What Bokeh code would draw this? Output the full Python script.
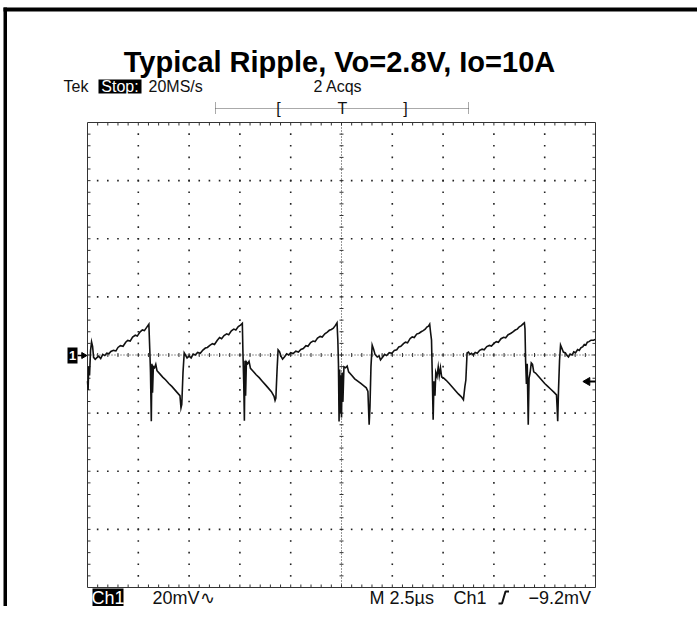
import numpy as np
from bokeh.plotting import figure
from bokeh.models import Range1d
from bokeh.embed import file_html
from bokeh.resources import INLINE
from bokeh.core.properties import value

# ---------------- data (time in microseconds, voltage in mV) ----------------
seg1_t = [0.00, 0.03, 0.06, 0.10, 0.15, 0.20, 0.25, 0.30, 0.38, 0.45, 0.55, 0.65, 0.75, 0.85, 0.95, 1.05,
          1.15, 1.28, 1.40, 1.50, 1.62, 1.75, 1.88, 1.98, 2.10, 2.22, 2.35, 2.45, 2.58, 2.70, 2.80, 2.92, 3.02]
seg1_v = [-9.0, -12.0, -4.0, -7.0, 1.5, 4.5, 3.0, -0.8, -1.5, -1.0, -0.4, -1.2, 0.2, -0.2, 0.6, 0.4,
          1.2, 1.6, 1.4, 2.6, 3.2, 3.0, 4.4, 5.0, 4.8, 6.2, 6.8, 6.5, 7.9, 8.6, 8.4, 9.6, 10.6]

seg2_t = [3.07, 3.10, 3.14, 3.17, 3.20, 3.24, 3.30, 3.36, 3.42, 3.55, 3.70, 3.85, 4.00, 4.15, 4.30, 4.45,
          4.55, 4.60, 4.64, 4.70, 4.76, 4.82, 4.90,
          5.00, 5.10, 5.20, 5.30, 5.42, 5.55, 5.68, 5.80, 5.90, 6.02, 6.15, 6.25, 6.38, 6.50, 6.60, 6.72,
          6.85, 6.95, 7.08, 7.20, 7.30, 7.42, 7.53, 7.62]
seg2_v = [0.8, -6.0, -22.8, -3.0, -13.0, -4.0, -4.4, -3.2, -5.4, -6.4, -7.6, -8.6, -9.8, -10.8, -12.0, -13.2,
          -14.0, -18.2, -17.0, -6.0, 0.7, 0.0, -1.0,
          -0.4, -1.0, 0.3, 0.0, 0.9, 0.6, 1.7, 2.4, 2.6, 3.3, 3.9, 3.6, 5.0, 6.0, 5.6, 6.7,
          7.3, 7.0, 8.3, 8.9, 8.6, 9.8, 10.3, 10.9]

seg3_t = [7.65, 7.69, 7.72, 7.75, 7.78, 7.82, 7.88, 7.95, 8.02, 8.15, 8.30, 8.45, 8.60, 8.75, 8.90, 9.05,
          9.18, 9.23, 9.27, 9.33, 9.38, 9.45, 9.52, 9.60,
          9.70, 9.80, 9.90, 10.00, 10.12, 10.25, 10.38, 10.50, 10.62, 10.75, 10.85, 10.98, 11.10, 11.20,
          11.32, 11.45, 11.55, 11.68, 11.80, 11.90, 12.00, 12.10, 12.20, 12.28]
seg3_v = [0.7, -10.0, -22.6, -2.0, -14.0, -2.4, -3.0, -2.2, -4.6, -5.6, -6.8, -7.8, -9.0, -10.2, -11.4, -12.6,
          -14.2, -15.6, -14.8, -5.0, 1.8, 1.2, -0.4, -1.4,
          -0.6, 0.4, 0.0, 0.8, 0.5, 1.3, 1.0, 1.9, 2.2, 3.2, 3.0, 4.3, 4.8, 4.6,
          5.8, 6.4, 6.2, 7.3, 7.9, 8.5, 8.8, 9.2, 10.2, 11.1]

seg4_t = [12.32, 12.35, 12.38, 12.41, 12.44, 12.47, 12.50, 12.53, 12.57, 12.62, 12.70, 12.78, 12.85, 13.00,
          13.15, 13.30, 13.45, 13.60, 13.72, 13.80, 13.86, 13.90, 13.95, 14.01, 14.08, 14.15, 14.26, 14.35, 14.42,
          14.52, 14.62, 14.72, 14.85, 14.98, 15.10, 15.22, 15.32, 15.42, 15.55, 15.65, 15.75, 15.88, 15.98,
          16.08, 16.20, 16.32, 16.42, 16.52, 16.62, 16.70, 16.78, 16.84]
seg4_v = [5.0, -3.0, -22.9, -5.0, -20.0, -7.0, -21.5, -6.0, -16.0, -4.1, -4.4, -3.8, -5.8, -7.0,
          -8.2, -9.0, -9.8, -10.6, -11.3, -12.5, -24.0, -18.0, -4.0, 3.4, 2.0, 0.2, -0.7, -0.3, -1.7,
          -0.8, 0.2, -0.2, 0.8, 0.6, 1.6, 1.8, 2.8, 3.0, 3.9, 4.4, 4.2, 5.7, 6.2,
          6.0, 7.2, 7.5, 8.0, 8.4, 8.9, 9.6, 9.9, 10.6]

seg5_t = [16.88, 16.93, 16.97, 17.01, 17.05, 17.10, 17.14, 17.20, 17.26, 17.31, 17.37, 17.43, 17.52, 17.65,
          17.80, 17.95, 18.10, 18.25, 18.40, 18.50, 18.57, 18.62, 18.68, 18.75, 18.82, 18.90,
          18.98, 19.08, 19.18, 19.30, 19.42, 19.52, 19.65, 19.78, 19.88, 20.00, 20.12, 20.22, 20.35, 20.48,
          20.58, 20.70, 20.82, 20.92, 21.05, 21.15, 21.25, 21.35, 21.45, 21.50]
seg5_v = [8.0, 5.1, -8.0, -22.3, -9.0, -14.0, -6.0, -7.4, -4.1, -7.2, -4.4, -7.6, -7.9, -8.7,
          -9.8, -11.0, -12.2, -13.4, -14.4, -15.4, -11.0, -8.6, 0.7, 1.0, 0.2, 0.6,
          0.0, 0.9, 0.6, 1.6, 2.0, 1.8, 2.9, 3.3, 3.1, 4.0, 4.6, 4.4, 5.6, 6.1,
          5.9, 7.0, 7.4, 7.9, 8.6, 8.9, 9.7, 10.1, 10.8, 11.1]

seg6_t = [21.53, 21.56, 21.60, 21.64, 21.69, 21.73, 21.78, 21.84, 21.90, 21.96, 22.05, 22.20, 22.35, 22.50,
          22.65, 22.80, 22.95, 23.08, 23.11, 23.14, 23.18, 23.23, 23.28, 23.35, 23.42, 23.52, 23.60, 23.67,
          23.75, 23.85, 23.93, 24.02, 24.12, 24.20, 24.28, 24.38, 24.45, 24.52, 24.60, 24.68, 24.78, 24.90, 24.98]
seg6_v = [9.0, -2.0, -10.0, -3.0, -24.0, -8.0, -6.2, -2.7, -3.2, -5.8, -6.2, -7.4, -8.6, -9.8,
          -10.8, -11.8, -12.8, -13.7, -18.0, -22.8, -12.0, -2.0, 3.4, 2.2, 1.0, 0.7, -0.2, -0.7,
          0.3, 0.0, 1.1, 0.8, 1.9, 1.6, 2.5, 2.9, 3.6, 3.4, 4.4, 4.6, 5.1, 5.1, 5.3]

title_text = "Typical Ripple, Vo=2.8V, Io=10A"
hdr_tek, hdr_stop, hdr_rate, hdr_acq = "Tek", "Stop:", "20MS/s", "2 Acqs"
ftr_ch, ftr_scale, ftr_time, ftr_trig_ch, ftr_trig_lvl = "Ch1", "20mV\u223f", "M 2.5\u00b5s", "Ch1", "\u22129.2mV"
us_per_div, mv_per_div = 2.5, 20.0
n_xdiv, n_ydiv = 10, 8

trace_t = seg1_t + seg2_t + seg3_t + seg4_t + seg5_t + seg6_t
trace_v = seg1_v + seg2_v + seg3_v + seg4_v + seg5_v + seg6_v

# ---------------- layout ----------------
W, H = 697, 606
GX0, GX1 = 87, 595   # graticule, canvas px
GY0, GY1 = 122, 587
T0, T1 = 0.0, us_per_div * n_xdiv
V1 = mv_per_div * n_ydiv / 2
V0 = -V1
sx = (GX1 - GX0) / (T1 - T0)
sy = (GY1 - GY0) / (V1 - V0)


def X(ax):  # canvas px -> data x
    return T0 + (ax - GX0) / sx


def Y(ay):  # canvas px -> data y
    return V1 - (ay - GY0) / sy


p = figure(width=W, height=H, title=None, output_backend="svg", toolbar_location=None,
           x_range=Range1d(X(0), X(W)), y_range=Range1d(Y(H), Y(0)),
           x_axis_type=None, y_axis_type=None, min_border=0)
p.min_border_left = p.min_border_right = p.min_border_top = p.min_border_bottom = 0
p.outline_line_color = None
p.background_fill_color = "white"
p.border_fill_color = "white"

INK = "#111111"
GRID = "#333333"
FONT = value("Liberation Sans")

# outer frame (top and left edges), drawn as filled bands
p.quad(left=[X(3)], right=[X(W)], top=[Y(7)], bottom=[Y(11)], fill_color="black", line_color=None)
p.quad(left=[X(3)], right=[X(6.5)], top=[Y(7)], bottom=[Y(H)], fill_color="black", line_color=None)

# title
p.text(x=[X(339)], y=[Y(61)], text=[title_text], text_font=FONT, text_font_style="bold",
       text_font_size=value("29px"), text_align="center", text_baseline="middle", text_color="black")

# header
HY = 86
p.text(x=[X(63)], y=[Y(HY)], text=[hdr_tek], text_font=FONT, text_font_size=value("16px"),
       text_align="left", text_baseline="middle", text_color=INK)
p.quad(left=[X(98)], right=[X(141)], top=[Y(79)], bottom=[Y(93)], fill_color="black", line_color=None)
p.text(x=[X(119.5)], y=[Y(HY)], text=[hdr_stop], text_font=FONT, text_font_size=value("16px"),
       text_align="center", text_baseline="middle", text_color="white")
p.text(x=[X(148)], y=[Y(HY)], text=[hdr_rate], text_font=FONT, text_font_size=value("16px"),
       text_align="left", text_baseline="middle", text_color=INK)
p.text(x=[X(313)], y=[Y(HY)], text=[hdr_acq], text_font=FONT, text_font_size=value("16px"),
       text_align="left", text_baseline="middle", text_color=INK)

# record-position bracket
p.segment(x0=[X(215)], y0=[Y(108)], x1=[X(468)], y1=[Y(108)], line_color="#555555",
          line_width=1, line_dash="1 1")
p.segment(x0=[X(215), X(468)], y0=[Y(102), Y(102)], x1=[X(215), X(468)], y1=[Y(114), Y(114)],
          line_color="#555555", line_width=1, line_dash="1 1")
p.text(x=[X(278), X(342), X(405)], y=[Y(108)] * 3, text=["[", "T", "]"], text_font=FONT,
       text_font_size=value("16px"), text_align="center", text_baseline="middle", text_color=INK)

# graticule outline
p.rect(x=[(T0 + T1) / 2], y=[0], width=[T1 - T0], height=[V1 - V0], fill_color=None,
       line_color=GRID, line_width=1)

minor_x = np.arange(1, n_xdiv * 5) * us_per_div / 5
minor_y = V0 + np.arange(1, n_ydiv * 5) * mv_per_div / 5
tick_len_y = 3 / sy
tick_len_x = 3 / sx
# edge ticks
p.segment(x0=minor_x, y0=np.full_like(minor_x, V0), x1=minor_x, y1=np.full_like(minor_x, V0 + tick_len_y),
          line_color=GRID, line_width=1)
p.segment(x0=minor_x, y0=np.full_like(minor_x, V1), x1=minor_x, y1=np.full_like(minor_x, V1 - tick_len_y),
          line_color=GRID, line_width=1)
p.segment(x0=np.full_like(minor_y, T0), y0=minor_y, x1=np.full_like(minor_y, T0 + tick_len_x), y1=minor_y,
          line_color=GRID, line_width=1)
p.segment(x0=np.full_like(minor_y, T1), y0=minor_y, x1=np.full_like(minor_y, T1 - tick_len_x), y1=minor_y,
          line_color=GRID, line_width=1)

# dotted grid
gx, gy = [], []
for k in range(1, n_xdiv):
    if k == n_xdiv // 2:
        continue
    for yy in minor_y:
        gx.append(k * us_per_div)
        gy.append(yy)
for k in range(1, n_ydiv):
    if k == n_ydiv // 2:
        continue
    for xx in minor_x:
        gx.append(xx)
        gy.append(V0 + k * mv_per_div)
p.scatter(x=gx, y=gy, marker="square", size=1.6, fill_color="#222222", line_color=None)

# center cross: fine dotted lines with minor ticks
xc = (T0 + T1) / 2
p.segment(x0=[xc, T0], y0=[V0, 0], x1=[xc, T1], y1=[V1, 0], line_color=GRID, line_width=1,
          line_dash="1 2")
p.segment(x0=minor_x, y0=np.full_like(minor_x, -2 / sy), x1=minor_x, y1=np.full_like(minor_x, 2 / sy),
          line_color=GRID, line_width=1)
p.segment(x0=np.full_like(minor_y, xc - 2 / sx), y0=minor_y, x1=np.full_like(minor_y, xc + 2 / sx), y1=minor_y,
          line_color=GRID, line_width=1)

# the trace
p.line(x=trace_t, y=trace_v, line_color=INK, line_width=1.6, line_join="miter")

# channel marker "1 ->" at left
p.quad(left=[X(67)], right=[X(77)], top=[Y(347)], bottom=[Y(363)], fill_color="black", line_color=None)
p.text(x=[X(72)], y=[Y(355)], text=["1"], text_font=FONT, text_font_style="bold",
       text_font_size=value("13px"), text_align="center", text_baseline="middle", text_color="white")
p.segment(x0=[X(77)], y0=[Y(355)], x1=[X(83)], y1=[Y(355)], line_color="black", line_width=1.5)
p.scatter(x=[X(83)], y=[Y(355)], marker="triangle", angle=-np.pi / 2, size=6,
          fill_color="black", line_color="black")

# trigger level marker at right
p.segment(x0=[X(587)], y0=[Y(381)], x1=[X(595)], y1=[Y(381)], line_color="black", line_width=2)
p.scatter(x=[X(587)], y=[Y(381)], marker="triangle", angle=np.pi / 2, size=8,
          fill_color="black", line_color="black")

# footer
FY = 597
p.quad(left=[X(92)], right=[X(123)], top=[Y(588)], bottom=[Y(606)], fill_color="black", line_color=None)
p.text(x=[X(107.5)], y=[Y(FY)], text=[ftr_ch], text_font=FONT, text_font_size=value("18px"),
       text_align="center", text_baseline="middle", text_color="white")
p.text(x=[X(152)], y=[Y(FY)], text=[ftr_scale], text_font=FONT, text_font_size=value("18px"),
       text_align="left", text_baseline="middle", text_color=INK)
p.text(x=[X(369)], y=[Y(FY)], text=[ftr_time], text_font=FONT, text_font_size=value("18px"),
       text_align="left", text_baseline="middle", text_color=INK)
p.text(x=[X(453)], y=[Y(FY)], text=[ftr_trig_ch], text_font=FONT, text_font_size=value("18px"),
       text_align="left", text_baseline="middle", text_color=INK)
p.line(x=[X(498), X(501.5), X(505), X(508.5)], y=[Y(603), Y(603), Y(591), Y(591)],
       line_color=INK, line_width=2)
p.text(x=[X(528)], y=[Y(FY)], text=[ftr_trig_lvl], text_font=FONT, text_font_size=value("18px"),
       text_align="left", text_baseline="middle", text_color=INK)

open("out.html", "w").write(file_html(p, INLINE))
